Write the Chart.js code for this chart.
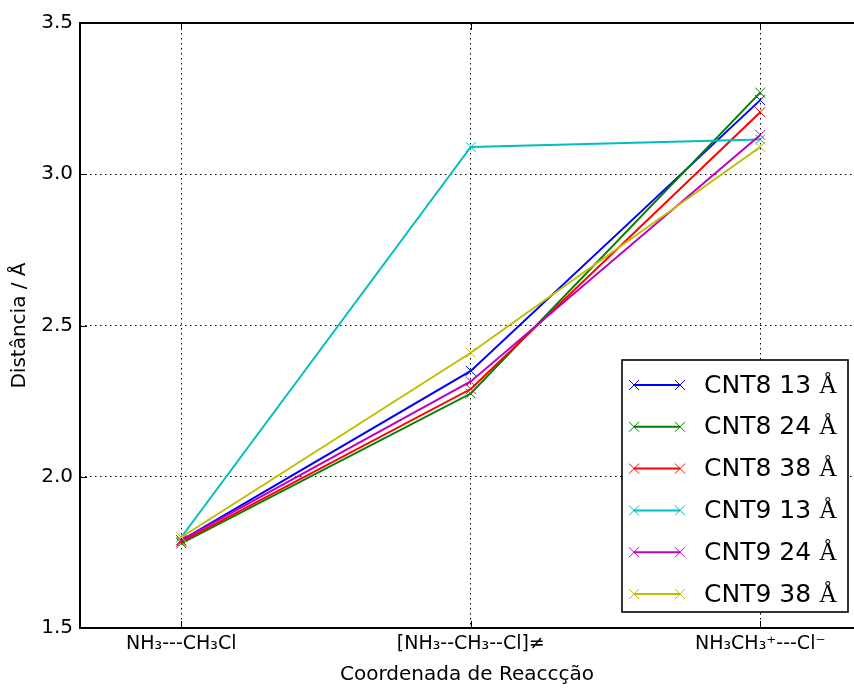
<!DOCTYPE html>
<html>
<head>
<meta charset="utf-8">
<script src="https://cdn.jsdelivr.net/npm/chart.js@4/dist/chart.umd.min.js"></script>
<style>
html, body { margin: 0; padding: 0; background: #fff; overflow: hidden; }
#c { display: block; }
</style>
</head>
<body>
<canvas id="c" width="854" height="689"></canvas>
<script>
// ---- data ----
const categories = ["NH₃---CH₃Cl", "[NH₃--CH₃--Cl]≠", "NH₃CH₃⁺---Cl⁻"];
const seriesNames = ["CNT8 13 Å", "CNT8 24 Å", "CNT8 38 Å", "CNT9 13 Å", "CNT9 24 Å", "CNT9 38 Å"];
const cnt8_13 = [1.79, 2.35, 3.245];
const cnt8_24 = [1.78, 2.275, 3.27];
const cnt8_38 = [1.785, 2.29, 3.205];
const cnt9_13 = [1.80, 3.09, 3.115];
const cnt9_24 = [1.79, 2.315, 3.13];
const cnt9_38 = [1.80, 2.41, 3.09];
const yTicks = [1.5, 2.0, 2.5, 3.0, 3.5];
const xTitle = "Coordenada de Reaccção";
const yTitle = "Distância / Å";

const seriesValues = [cnt8_13, cnt8_24, cnt8_38, cnt9_13, cnt9_24, cnt9_38];
const colors = ["#0000ff", "#008000", "#ff0000", "#00bfbf", "#bf00bf", "#bfbf00"];

const datasets = seriesValues.map((vals, i) => ({
  label: seriesNames[i],
  data: vals.map((v, k) => ({ x: k, y: v })),
  borderColor: colors[i],
  backgroundColor: colors[i],
  borderWidth: 2,
  pointStyle: 'crossRot',
  pointRadius: 7,
  pointBorderWidth: 1,
  pointBorderColor: colors[i],
  fill: false,
  tension: 0,
  order: seriesValues.length - i
}));

// frame: the reference's right edge lies just beyond the picture, so only top/left/bottom are drawn
const frameAndTicks = {
  id: 'frameAndTicks',
  afterDatasetsDraw(chart) {
    const ctx = chart.ctx;
    const a = chart.chartArea;
    const xs = chart.scales.x, ys = chart.scales.y;
    ctx.save();
    ctx.strokeStyle = '#000';
    ctx.lineWidth = 1;
    ctx.setLineDash([]);
    const tl = 7;
    ctx.beginPath();
    for (let k = 0; k < categories.length; k++) {
      const px = Math.round(xs.getPixelForValue(k)) + 0.5;
      ctx.moveTo(px, a.bottom); ctx.lineTo(px, a.bottom - tl);
      ctx.moveTo(px, a.top); ctx.lineTo(px, a.top + tl);
    }
    for (const v of yTicks) {
      const py = Math.round(ys.getPixelForValue(v)) + 0.5;
      ctx.moveTo(a.left, py); ctx.lineTo(a.left + tl, py);
    }
    ctx.stroke();
    ctx.lineWidth = 2;
    ctx.beginPath();
    ctx.moveTo(a.right + 2, a.top);
    ctx.lineTo(a.left, a.top);
    ctx.lineTo(a.left, a.bottom);
    ctx.lineTo(a.right + 2, a.bottom);
    ctx.stroke();
    ctx.restore();
  }
};

const boxLegend = {
  id: 'boxLegend',
  afterDraw(chart) {
    const ctx = chart.ctx;
    const a = chart.chartArea;
    const w = 226, h = 252;
    const right = a.right - 6, bottom = a.bottom - 16;
    const left = right - w, top = bottom - h;
    ctx.save();
    ctx.setLineDash([]);
    ctx.fillStyle = '#fff';
    ctx.fillRect(left, top, w, h);
    ctx.strokeStyle = '#000';
    ctx.lineWidth = 1.6;
    ctx.strokeRect(left, top, w, h);
    chart.data.datasets.forEach((ds, i) => {
      const y = top + 25 + i * 41.8;
      const x0 = left + 12, x1 = left + 58;
      ctx.strokeStyle = ds.borderColor;
      ctx.lineWidth = 2;
      ctx.beginPath();
      ctx.moveTo(x0, y); ctx.lineTo(x1, y);
      ctx.stroke();
      ctx.lineWidth = 1;
      const r = 5;
      for (const cx of [x0, x1]) {
        ctx.beginPath();
        ctx.moveTo(cx - r, y - r); ctx.lineTo(cx + r, y + r);
        ctx.moveTo(cx - r, y + r); ctx.lineTo(cx + r, y - r);
        ctx.stroke();
      }
      const label = ds.label;
      const main = label.slice(0, -1);
      const last = label.slice(-1);
      ctx.fillStyle = '#000';
      ctx.textBaseline = 'middle';
      ctx.textAlign = 'left';
      ctx.font = '25px "DejaVu Sans"';
      const tx = left + 82;
      ctx.fillText(main, tx, y + 1);
      const mw = ctx.measureText(main).width;
      ctx.font = '25px "Liberation Serif"';
      ctx.fillText(last, tx + mw, y + 1);
    });
    ctx.restore();
  }
};

new Chart(document.getElementById('c'), {
  type: 'line',
  data: { datasets },
  options: {
    responsive: false,
    animation: false,
    devicePixelRatio: 1,
    layout: { autoPadding: false, padding: { top: 23, right: 0, bottom: 0, left: 0 } },
    plugins: { legend: { display: false }, tooltip: { enabled: false } },
    scales: {
      x: {
        type: 'linear',
        min: -0.35,
        max: 2.324,
        afterBuildTicks(scale) { scale.ticks = categories.map((_, k) => ({ value: k })); },
        afterFit(scale) { scale.height = 61; scale.paddingLeft = 0; scale.paddingRight = 0; },
        ticks: {
          callback: (v) => categories[v] ?? '',
          color: '#000',
          font: { family: 'DejaVu Sans', size: 19 },
          padding: 5,
          maxRotation: 0,
          autoSkip: false
        },
        grid: {
          color: '#000',
          lineWidth: 1,
          drawTicks: false
        },
        border: { display: false, dash: [1.5, 3.5] },
        title: {
          display: true,
          text: xTitle,
          color: '#000',
          font: { family: 'DejaVu Sans', size: 20 },
          padding: { top: 0, bottom: 2 }
        }
      },
      y: {
        type: 'linear',
        min: 1.5,
        max: 3.5,
        afterBuildTicks(scale) { scale.ticks = yTicks.map(v => ({ value: v })); },
        afterFit(scale) { scale.width = 80; scale.paddingTop = 0; scale.paddingBottom = 0; },
        ticks: {
          callback: (v) => v.toFixed(1),
          color: '#000',
          font: { family: 'DejaVu Sans', size: 20 },
          padding: 7
        },
        grid: {
          color: '#000',
          lineWidth: 1,
          drawTicks: false
        },
        border: { display: false, dash: [1.5, 3.5] },
        title: {
          display: true,
          text: yTitle,
          color: '#000',
          font: { family: 'DejaVu Sans', size: 20 },
          padding: { top: 8, bottom: 4 }
        }
      }
    }
  },
  plugins: [frameAndTicks, boxLegend]
});
</script>
</body>
</html>
